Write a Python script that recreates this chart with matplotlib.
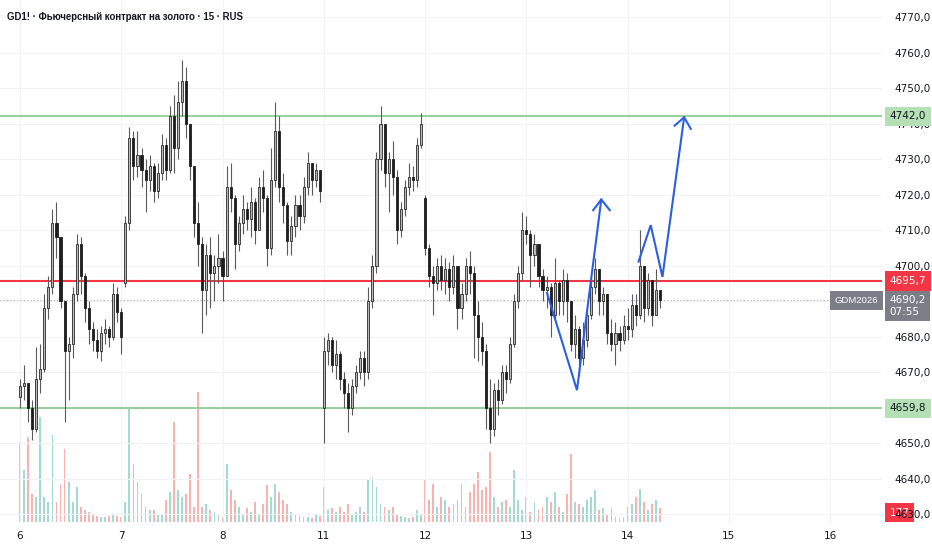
import matplotlib
matplotlib.use('Agg')
import numpy as np
import matplotlib.pyplot as plt
from matplotlib.transforms import blended_transform_factory

# 15-minute gold futures (roughly one candle per hour-ish step)
day_labels = ['6', '7', '8', '11', '12', '13', '14', '15', '16']
day_ticks = [0, 25, 50, 75, 100, 125, 150, 175, 200]

closes = [4666, 4667, 4660, 4654, 4668, 4671, 4688, 4694, 4712, 4708,
          4690, 4676, 4678, 4692, 4706, 4697, 4688, 4682, 4679, 4676,
          4681, 4682, 4680, 4692, 4687, 4680, 4712, 4736, 4728, 4731,
          4727, 4724, 4728, 4721, 4726, 4734, 4727, 4742, 4733, 4746,
          4752, 4740, 4728, 4712, 4706, 4693, 4703, 4698, 4700, 4702,
          4697, 4722, 4719, 4706, 4712, 4716, 4713, 4718, 4710, 4722,
          4719, 4705, 4724, 4738, 4722, 4717, 4707, 4711, 4717, 4714,
          4722, 4729, 4724, 4727, 4721, 4676, 4679, 4672, 4675, 4668,
          4664, 4660, 4666, 4670, 4674, 4670, 4690, 4700, 4730, 4740,
          4726, 4730, 4725, 4710, 4716, 4722, 4725, 4724, 4734, 4740,
          4705, 4697, 4695, 4700, 4696, 4699, 4694, 4700, 4688, 4692,
          4700, 4698, 4686, 4680, 4676, 4660, 4654, 4665, 4662, 4670,
          4668, 4678, 4690, 4698, 4710, 4709, 4703, 4706, 4697, 4693,
          4694, 4686, 4695, 4690, 4696, 4690, 4678, 4682, 4674, 4679,
          4686, 4694, 4699, 4690, 4692, 4681, 4678, 4681, 4679, 4683,
          4682, 4689, 4686, 4700, 4688, 4696, 4686, 4693, 4690.2]

highs = [4668, 4672, 4667, 4662, 4677, 4678, 4692, 4697, 4716, 4718,
         4708, 4690, 4680, 4694, 4709, 4708, 4698, 4690, 4684, 4682,
         4683, 4685, 4683, 4695, 4694, 4688, 4714, 4739, 4738, 4738,
         4733, 4730, 4731, 4729, 4729, 4737, 4736, 4745, 4748, 4752,
         4758, 4756, 4740, 4728, 4718, 4708, 4706, 4708, 4703, 4709,
         4704, 4728, 4729, 4720, 4714, 4720, 4718, 4722, 4719, 4725,
         4727, 4720, 4733, 4746, 4742, 4726, 4718, 4714, 4720, 4720,
         4725, 4732, 4729, 4729, 4727, 4680, 4681, 4680, 4679, 4676,
         4670, 4667, 4668, 4672, 4676, 4676, 4694, 4703, 4732, 4745,
         4740, 4732, 4735, 4727, 4718, 4724, 4729, 4728, 4736, 4743,
         4720, 4706, 4700, 4702, 4703, 4702, 4701, 4703, 4700, 4695,
         4702, 4704, 4700, 4690, 4684, 4678, 4668, 4667, 4668, 4672,
         4672, 4680, 4692, 4700, 4715, 4714, 4710, 4709, 4704, 4699,
         4697, 4695, 4702, 4696, 4699, 4698, 4690, 4686, 4683, 4684,
         4688, 4696, 4702, 4698, 4694, 4692, 4685, 4684, 4683, 4686,
         4688, 4692, 4692, 4710, 4700, 4698, 4695, 4699, 4693]

lows = [4660, 4662, 4656, 4651, 4653, 4664, 4670, 4685, 4692, 4702,
        4688, 4656, 4662, 4674, 4690, 4692, 4684, 4678, 4676, 4674,
        4673, 4678, 4677, 4679, 4684, 4675, 4694, 4710, 4724, 4725,
        4722, 4715, 4721, 4718, 4719, 4724, 4724, 4726, 4726, 4730,
        4742, 4736, 4724, 4708, 4700, 4681, 4686, 4688, 4690, 4695,
        4690, 4697, 4715, 4699, 4704, 4709, 4710, 4708, 4706, 4710,
        4715, 4700, 4703, 4722, 4718, 4712, 4703, 4703, 4708, 4710,
        4712, 4720, 4720, 4722, 4718, 4650, 4672, 4670, 4668, 4665,
        4660, 4653, 4658, 4664, 4668, 4666, 4668, 4688, 4698, 4727,
        4722, 4715, 4720, 4706, 4708, 4714, 4720, 4721, 4722, 4733,
        4703, 4694, 4686, 4693, 4693, 4692, 4690, 4692, 4682, 4685,
        4690, 4692, 4674, 4673, 4672, 4654, 4650, 4652, 4658, 4661,
        4664, 4667, 4677, 4688, 4696, 4706, 4694, 4700, 4694, 4690,
        4688, 4680, 4685, 4686, 4686, 4684, 4676, 4674, 4669, 4672,
        4677, 4685, 4692, 4686, 4686, 4678, 4676, 4672, 4676, 4678,
        4679, 4680, 4683, 4685, 4684, 4686, 4683, 4687, 4688]

# opens follow the previous close, except where a session starts with a gap
session_opens = {0: 4663, 26: 4695, 75: 4660, 100: 4719}

volumes = [1010, 655, 1070, 355, 315, 1325, 315, 250, 1095, 250,
           480, 920, 505, 250, 440, 190, 150, 125, 100, 75,
           65, 65, 75, 100, 75, 65, 250, 1425, 730, 505,
           355, 190, 150, 150, 100, 90, 275, 380, 1260, 405,
           315, 355, 605, 190, 1640, 190, 225, 150, 125, 100,
           65, 730, 405, 275, 190, 100, 175, 125, 250, 100,
           225, 465, 315, 480, 380, 275, 225, 125, 100, 75,
           65, 65, 50, 100, 75, 440, 150, 175, 125, 190,
           125, 225, 100, 125, 190, 125, 530, 565, 440, 225,
           190, 150, 190, 100, 75, 65, 50, 65, 150, 100,
           530, 275, 480, 190, 315, 275, 190, 225, 275, 480,
           190, 380, 480, 630, 405, 440, 880, 315, 190, 250,
           275, 190, 655, 275, 150, 315, 125, 250, 150, 190,
           315, 250, 380, 190, 125, 355, 855, 250, 225, 190,
           275, 315, 405, 150, 175, 100, 175, 65, 50, 65,
           190, 225, 315, 415, 250, 150, 225, 275, 177]

level_top = 4742.0
level_mid = 4695.7
level_low = 4659.8
last_price = 4690.2
price_ticks = [4630, 4640, 4650, 4670, 4680, 4700, 4710, 4720, 4730, 4740,
               4750, 4760, 4770]  # 4660/4690 sit fully under the tags

# hand-drawn forecast paths (bar index, price)
path1_x = [130.1, 137.5, 143.5]
path1_y = [4692.3, 4664.9, 4718.6]
head1_x = [141.5, 143.5, 145.6]
head1_y = [4715.6, 4718.6, 4715.6]
path2_x = [152.7, 155.7, 158.6, 163.95]
path2_y = [4701.1, 4711.4, 4696.8, 4741.75]
head2_x = [161.6, 163.95, 165.6]
head2_y = [4739.4, 4741.75, 4738.5]

sans = ['Liberation Sans', 'DejaVu Sans']


def fmt(v):
    return f'{v:.1f}'.replace('.', ',')


closes = np.array(closes, dtype=float)
highs = np.array(highs, dtype=float)
lows = np.array(lows, dtype=float)
vols = np.array(volumes, dtype=float)
n = len(closes)
x = np.arange(n)
opens = np.r_[closes[0], closes[:-1]]
for k, v in session_opens.items():
    opens[k] = v
up = closes >= opens

fig = plt.figure(figsize=(9.32, 5.5), dpi=100)
ax = fig.add_axes([0, 26 / 550, 882 / 932, 524 / 550])
axv = ax.twinx()
ax.set_zorder(2)
ax.patch.set_visible(False)
axv.set_zorder(1)

# volume underneath
vcol = np.where(up, '#a3dbd3', '#f8b3b1')
axv.bar(x, vols, width=0.45, color=vcol, linewidth=0)
axv.set_ylim(-25, 6577)
axv.set_yticks([])
for s in axv.spines.values():
    s.set_visible(False)

# grid
for yv in np.arange(4630, 4771, 10):
    ax.axhline(yv, color='#f0f2f6', lw=0.8, zorder=0)
for d in day_ticks:
    ax.axvline(d, color='#f0f2f6', lw=0.8, zorder=0)

# candles
ax.vlines(x, lows, highs, color='#5a5a5a', lw=0.8, zorder=3)
bottoms = np.minimum(opens, closes)
heights = np.maximum(np.abs(closes - opens), 0.3)
ax.bar(x[up], heights[up], bottom=bottoms[up], width=0.52, color='#b8b8b8',
       edgecolor='#2a2a2a', linewidth=0.6, zorder=4)
ax.bar(x[~up], heights[~up], bottom=bottoms[~up], width=0.52, color='#1e1e1e',
       edgecolor='#1e1e1e', linewidth=0.6, zorder=4)

# levels
ax.axhline(level_top, color='#86c98a', lw=1.2, zorder=2)
ax.axhline(level_low, color='#86c98a', lw=1.2, zorder=2)
ax.axhline(level_mid, color='#f23645', lw=1.5, zorder=2)
ax.axhline(last_price, color='#a8abb3', lw=0.8, ls=(0, (1, 2)), zorder=2)

# forecast drawing
blue = '#2b5fe0'
ax.plot(path1_x, path1_y, color=blue, lw=1.5, zorder=6, solid_joinstyle='miter')
ax.plot(head1_x, head1_y, color=blue, lw=1.5, zorder=6)
ax.plot(path2_x, path2_y, color=blue, lw=1.5, zorder=6, solid_joinstyle='miter')
ax.plot(head2_x, head2_y, color=blue, lw=1.5, zorder=6)

ax.set_xlim(-4.94, 212.8)
ax.set_ylim(4627.2, 4774.8)
ax.set_xticks(day_ticks)
ax.set_xticklabels(day_labels)
ax.yaxis.tick_right()
ax.set_yticks(price_ticks)
ax.set_yticklabels([fmt(v) for v in price_ticks])
ax.tick_params(axis='both', length=0, labelsize=7.5, colors='#131722')
ax.tick_params(axis='y', pad=9)
ax.tick_params(axis='x', pad=5)
for s in ax.spines.values():
    s.set_visible(False)

# price tags on the scale
tr = blended_transform_factory(ax.transAxes, ax.transData)
tag_x = 1.0085
for val, face, tc in [(level_top, '#b5e0b5', '#131722'),
                      (level_low, '#b5e0b5', '#131722'),
                      (level_mid, '#f23645', 'white')]:
    ax.text(tag_x, val, fmt(val), transform=tr, ha='left', va='center',
            fontsize=7.5, color=tc, zorder=10, clip_on=False,
            bbox=dict(boxstyle='square,pad=0.45', fc=face, ec='none'))
ax.text(tag_x, last_price - 1.6, fmt(last_price) + '\n07:55', transform=tr,
        ha='left', va='center', fontsize=7.5, color='white', zorder=10,
        clip_on=False, linespacing=1.25,
        bbox=dict(boxstyle='square,pad=0.4', fc='#7b7e86', ec='none'))
ax.text(0.9955, last_price, 'GDM2026', transform=tr, ha='right', va='center',
        fontsize=6.8, color='white', zorder=10, clip_on=False, family=sans,
        bbox=dict(boxstyle='square,pad=0.5', fc='#7b7e86', ec='none'))
trv = blended_transform_factory(axv.transAxes, axv.transData)
axv.text(1.0085, vols[-1] - 60, f'{int(vols[-1])}', transform=trv, ha='left',
         va='center', fontsize=7.5, color='white', zorder=10, clip_on=False,
         bbox=dict(boxstyle='square,pad=0.45', fc='#f23645', ec='none'))

title = fig.text(0.007, 1 - 17 / 550, 'GD1! · Фьючерсный контракт на золото · 15 · RUS',
                 ha='left', va='center', fontsize=8, fontweight='bold',
                 color='#131722', family=sans)
# fit the title to the width it takes in the reference (~238 px)
fig.canvas.draw()
w = title.get_window_extent().width
title.set_fontsize(8 * 238 / w)

fig.savefig('out.png', dpi=100, facecolor='white')
